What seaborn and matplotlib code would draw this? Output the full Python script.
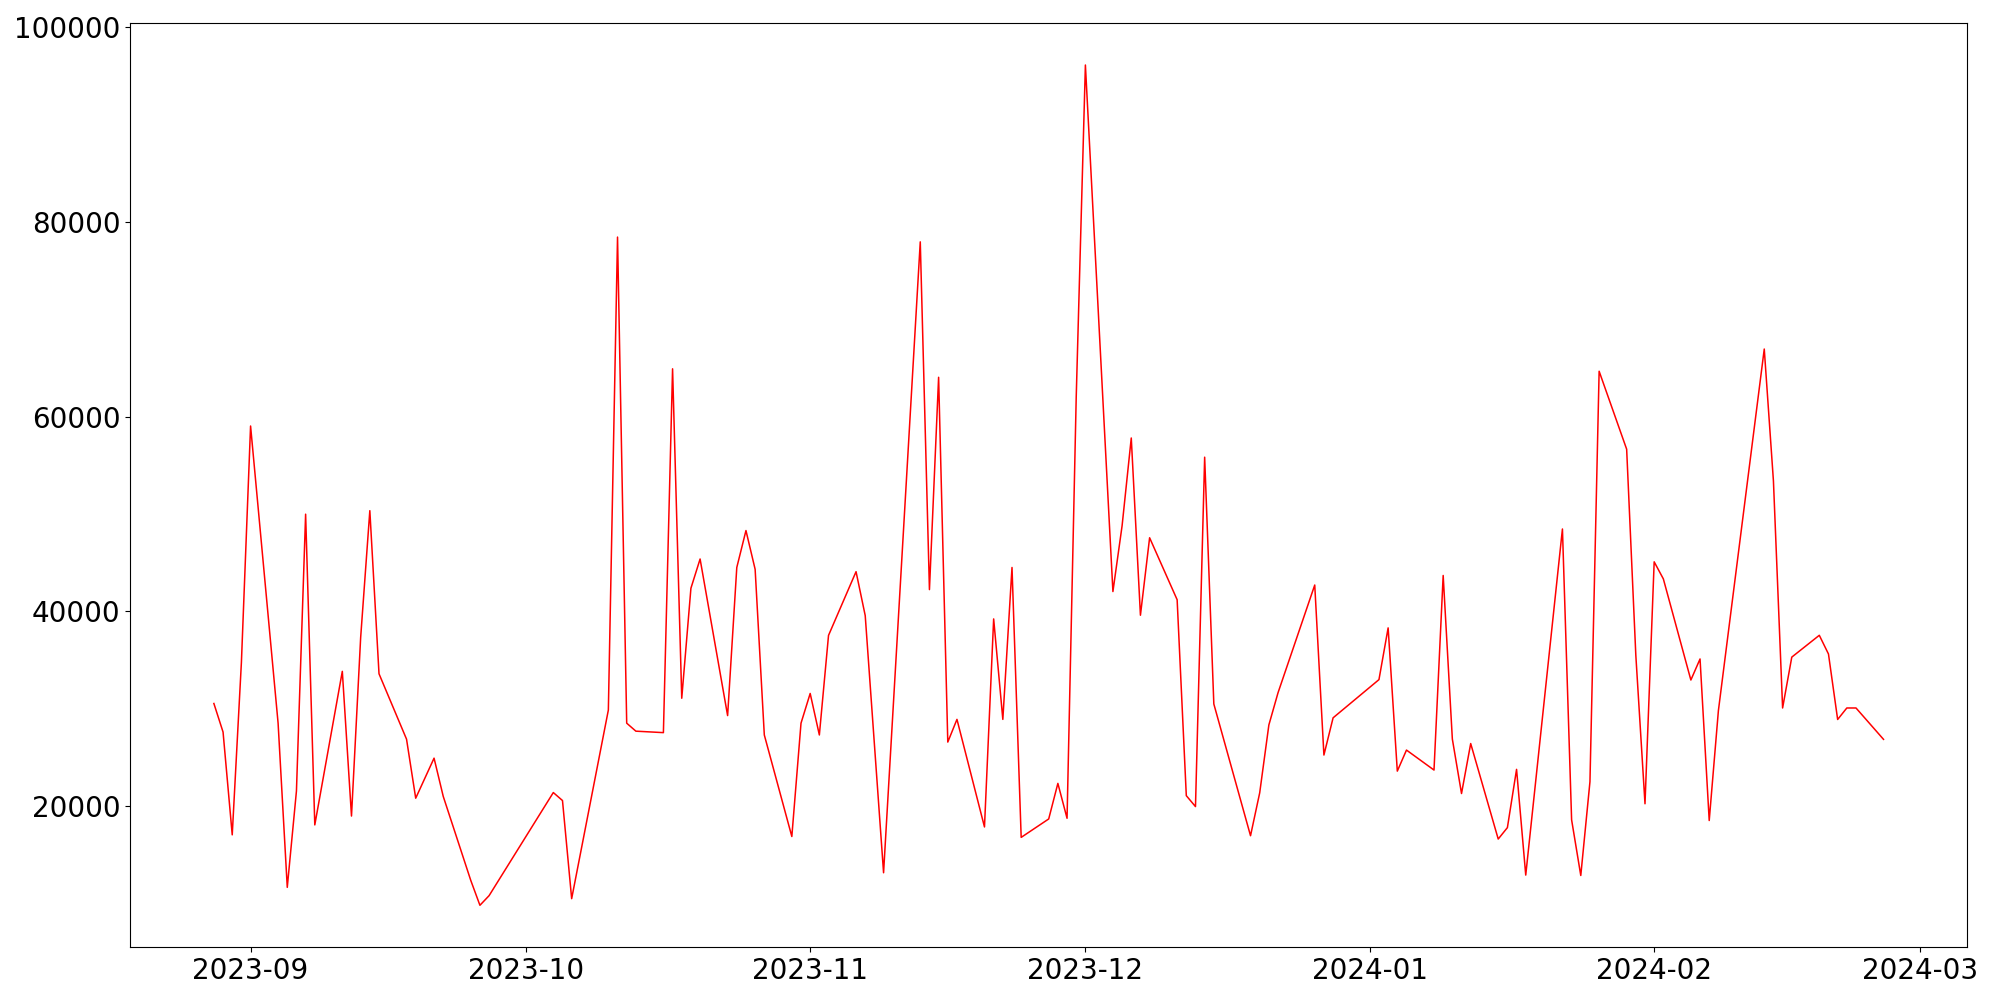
import matplotlib
matplotlib.use("Agg")
import matplotlib.pyplot as plt
import seaborn as sns
import pandas as pd

dates = [
    "2023-08-28", "2023-08-29", "2023-08-30", "2023-08-31", "2023-09-01",
    "2023-09-04", "2023-09-05", "2023-09-06", "2023-09-07", "2023-09-08",
    "2023-09-11", "2023-09-12", "2023-09-13", "2023-09-14", "2023-09-15",
    "2023-09-18", "2023-09-19", "2023-09-21", "2023-09-22",
    "2023-09-25", "2023-09-26", "2023-09-27",
    "2023-10-04", "2023-10-05", "2023-10-06",
    "2023-10-10", "2023-10-11", "2023-10-12", "2023-10-13",
    "2023-10-16", "2023-10-17", "2023-10-18", "2023-10-19", "2023-10-20",
    "2023-10-23", "2023-10-24", "2023-10-25", "2023-10-26", "2023-10-27",
    "2023-10-30", "2023-10-31", "2023-11-01", "2023-11-02", "2023-11-03",
    "2023-11-06", "2023-11-07", "2023-11-09",
    "2023-11-13", "2023-11-14", "2023-11-15", "2023-11-16", "2023-11-17",
    "2023-11-20", "2023-11-21", "2023-11-22", "2023-11-23", "2023-11-24",
    "2023-11-27", "2023-11-28", "2023-11-29", "2023-11-30", "2023-12-01",
    "2023-12-04", "2023-12-05", "2023-12-06", "2023-12-07", "2023-12-08",
    "2023-12-11", "2023-12-12", "2023-12-13", "2023-12-14", "2023-12-15",
    "2023-12-19", "2023-12-20", "2023-12-21", "2023-12-22",
    "2023-12-26", "2023-12-27", "2023-12-28",
    "2024-01-02", "2024-01-03", "2024-01-04", "2024-01-05",
    "2024-01-08", "2024-01-09", "2024-01-10", "2024-01-11", "2024-01-12",
    "2024-01-15", "2024-01-16", "2024-01-17", "2024-01-18",
    "2024-01-22", "2024-01-23", "2024-01-24", "2024-01-25", "2024-01-26",
    "2024-01-29", "2024-01-30", "2024-01-31", "2024-02-01", "2024-02-02",
    "2024-02-05", "2024-02-06", "2024-02-07", "2024-02-08",
    "2024-02-13", "2024-02-14", "2024-02-15", "2024-02-16",
    "2024-02-19", "2024-02-20", "2024-02-21", "2024-02-22", "2024-02-23",
    "2024-02-26",
]

values = [
    30550, 27620, 17070, 34770, 59030,
    28530, 11680, 21570, 49980, 18090,
    33850, 19000, 37330, 50340, 33600,
    26890, 20830, 24940, 21020,
    12400, 9840, 10830,
    21410, 20590, 10520,
    29880, 78420, 28530, 27710,
    27560, 64900, 31090, 42380, 45380,
    29310, 44510, 48300, 44320, 27320,
    16900, 28530, 31580, 27320, 37540,
    44080, 39570, 13180,
    77930, 42240, 64030, 26590, 28920,
    17880, 39230, 28920, 44510, 16810,
    18700, 22350, 18770, 62000, 96080,
    42040, 48790, 57800, 39610, 47560,
    41200, 21090, 19970, 55830, 30500,
    16980, 21380, 28350, 31660,
    42710, 25260, 29080,
    33000, 38310, 23610, 25770,
    23720, 43690, 26900, 21310, 26440,
    16640, 17810, 23790, 12940,
    48460, 18610, 12900, 22520, 64650,
    56650, 35500, 20260, 45090, 43340,
    32960, 35120, 18540, 29810,
    66930, 53390, 30090, 35310,
    37550, 35630, 28910, 30090, 30090,
    26870,
]

df = pd.DataFrame({"date": pd.to_datetime(dates), "value": values})

fig, ax = plt.subplots(figsize=(20, 10), dpi=100)
sns.lineplot(data=df, x="date", y="value", color="red", linewidth=1.1, ax=ax)
ax.set_xlabel("")
ax.set_ylabel("")
ax.tick_params(axis="both", labelsize=20)
fig.subplots_adjust(left=0.0652, right=0.9835, bottom=0.0527, top=0.977)
fig.savefig("out.png", dpi=100)
